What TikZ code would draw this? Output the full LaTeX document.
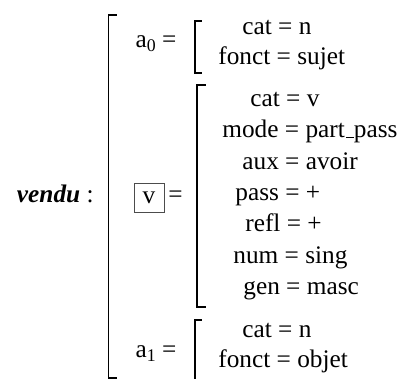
\documentclass[tikz,border=0pt]{standalone}
\usepackage{fontspec}
\setmainfont{Liberation Serif}
\newcommand\myund{\leavevmode\kern.06em\vbox{\hrule width.3em}}
\newcommand\mysub[1]{\raisebox{-0.3ex}{\fontsize{8.9}{10}\selectfont #1}}
\newcommand\eq{\kern0.25em=\kern0.25em}
\tikzset{
  txt/.style={inner sep=0pt, anchor=base west, font=\fontsize{12.65}{15}\selectfont},
  lbl/.style={inner sep=0pt, anchor=base east, font=\fontsize{12.65}{15}\selectfont},
  brk/.style={line width=0.8pt, line cap=butt, line join=miter},
  vbox/.style={draw=black!70, line width=0.4pt, minimum width=15pt, minimum height=14.5pt, inner sep=0pt, font=\fontsize{12.65}{15}\selectfont}
}
\begin{document}
\begin{tikzpicture}[x=0.5pt,y=-0.5pt]
\useasboundingbox (0,0) rectangle (403,379);
% brackets
\draw[brk] (117,15) -- (108.5,15) -- (108.5,378) -- (117,378);
\draw[brk] (202,21) -- (195,21) -- (195,73) -- (202,73);
\draw[brk] (206,85) -- (197,85) -- (197,307) -- (206,307);
\draw[brk] (202,320) -- (195,320) -- (195,384) -- (202,384);
% main label
\node[lbl] (vendu) at (94,203) {\textbf{\textit{vendu}} :};
% sub labels
\node[lbl] (la0) at (183,48) {a\mysub{0}\eq};
\node[vbox] (vb) at (149,197.5) {v};
\node[lbl] (lv) at (183,203) {=};
\node[lbl] (la1) at (183,358) {a\mysub{1}\eq};
% a0 features
\node[txt] (a0c) at (242,35) {cat\eq n};
\node[txt] (a0f) at (218,65) {fonct\eq sujet};
% v features
\node[txt] (vc) at (250,107) {cat\eq v};
\node[txt] (vm) at (222,138) {mode\eq part\myund pass};
\node[txt] (va) at (242,170) {aux\eq avoir};
\node[txt] (vp) at (235,201) {pass\eq +};
\node[txt] (vr) at (245,232) {refl\eq +};
\node[txt] (vn) at (233,264) {num\eq sing};
\node[txt] (vg) at (243,295) {gen\eq masc};
% a1 features
\node[txt] (a1c) at (242,338) {cat\eq n};
\node[txt] (a1f) at (218,368) {fonct\eq objet};
\end{tikzpicture}
\end{document}
